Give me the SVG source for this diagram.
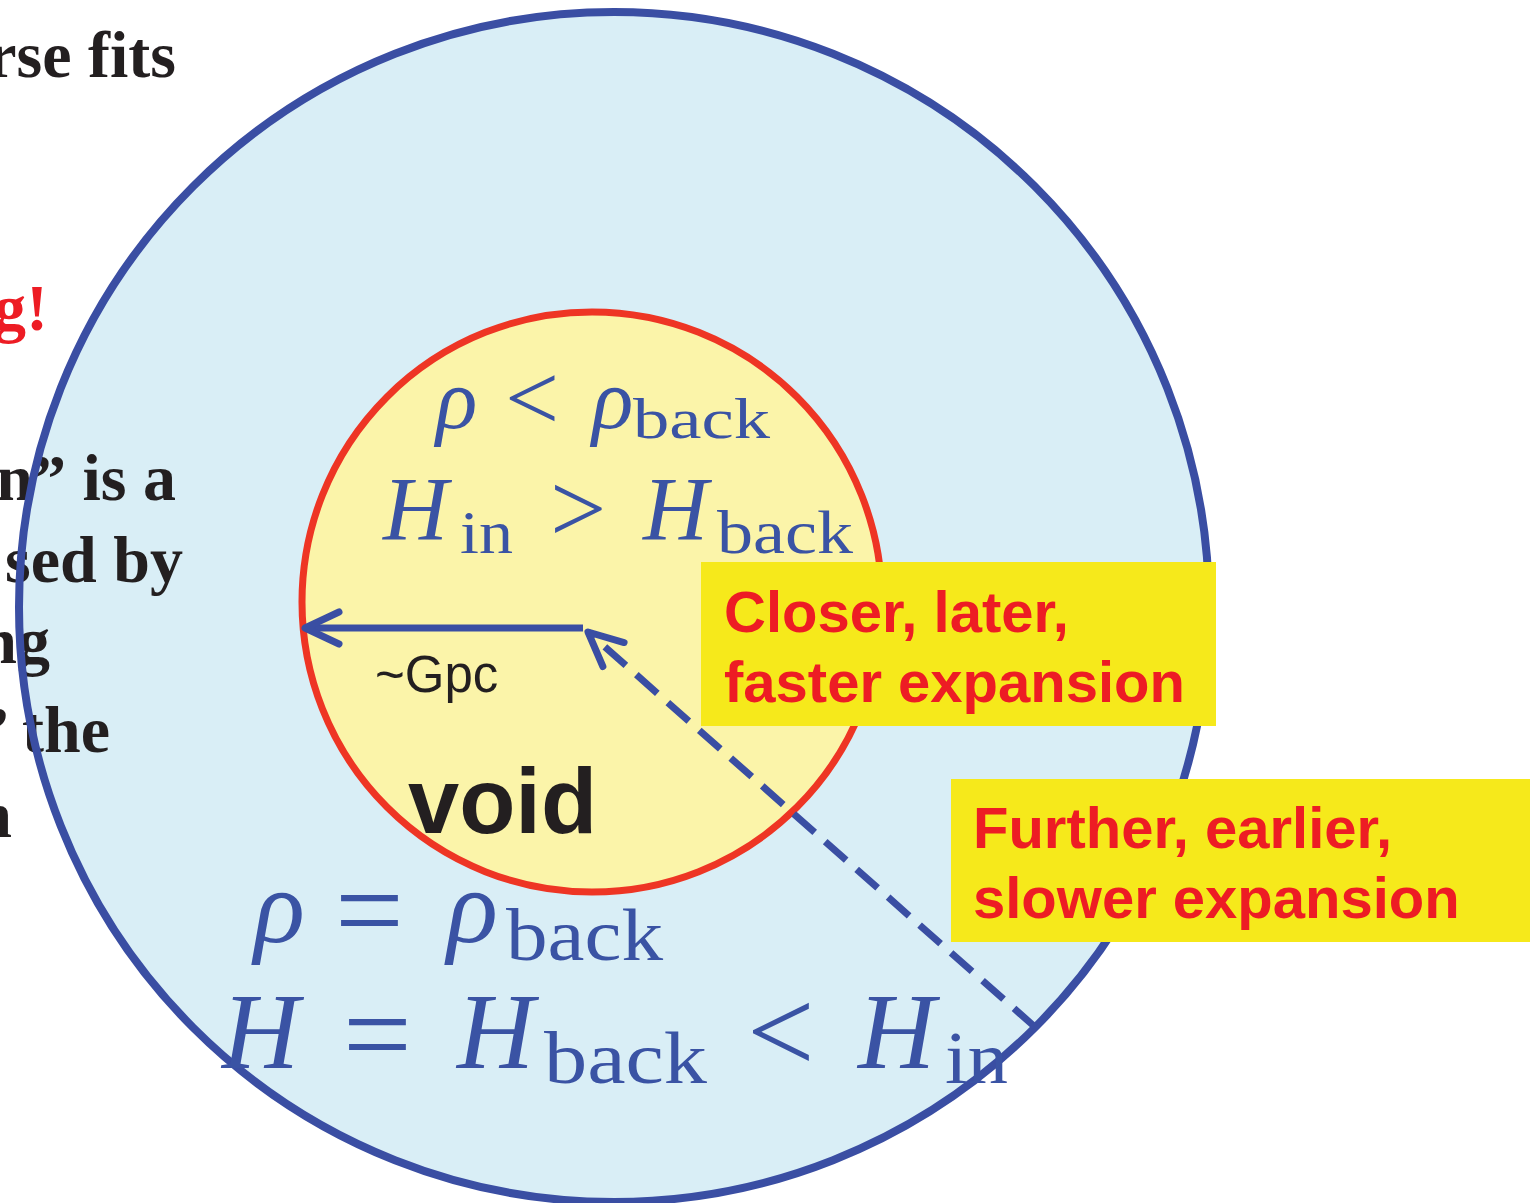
<svg xmlns="http://www.w3.org/2000/svg" width="1530" height="1203" viewBox="0 0 1530 1203">
<style>
.lt{font-family:"Liberation Serif","Times New Roman",serif;font-weight:bold;font-size:66px;fill:#231f20}
.red{fill:#ed1c24}
.m{font-family:"Liberation Serif","Times New Roman",serif;fill:#3a53a4}
.it{font-style:italic}
.box{fill:#f6e91b}
.bt{font-family:"Liberation Sans",Arial,sans-serif;font-weight:bold;font-size:58px;fill:#ed1c24}
.conn{fill:none;stroke:#3a4ea3;stroke-width:7}
</style>
<defs>
<marker id="ah" markerUnits="userSpaceOnUse" orient="auto" viewBox="-45 -25 55 50" refX="0" refY="0" markerWidth="55" markerHeight="50" overflow="visible">
<path d="M-34 -16 L0 0 L-34 16" fill="none" stroke="#3a4ea3" stroke-width="7" stroke-linecap="round" stroke-linejoin="round"/>
</marker>
</defs>
<rect width="1530" height="1203" fill="#ffffff"/>
<g id="outer-region">
<circle cx="614" cy="607" r="595" fill="#d9eef6"/>
</g>
<g id="left-text">
<text class="lt" x="176" y="77" text-anchor="end">rse fits</text>
<text class="lt red" x="48" y="330" text-anchor="end">g!</text>
<text class="lt" x="176" y="500" text-anchor="end">n” is a</text>
<text class="lt" x="183" y="582" text-anchor="end">sed by</text>
<text class="lt" x="50" y="663" text-anchor="end">ng</text>
<text class="lt" x="110" y="752" text-anchor="end">’ the</text>
<text class="lt" x="12" y="837" text-anchor="end">n</text>
</g>
<g id="outer-border">
<circle cx="614" cy="607" r="595" fill="none" stroke="#3a4ea3" stroke-width="8"/>
</g>
<g id="void">
<circle cx="592" cy="602" r="290" fill="#fbf4a9" stroke="#ee3524" stroke-width="7"/>
<text x="408" y="833" font-family="Liberation Sans, Arial, sans-serif" font-weight="bold" font-size="92" fill="#231f20">void</text>
</g>
<g id="inner-equations">
<text class="m it" x="436" y="428" font-size="86">ρ</text>
<text class="m" x="505" y="430" font-size="96">&lt;</text>
<text class="m it" x="592" y="428" font-size="86">ρ</text>
<text class="m" x="633" y="438" font-size="58" textLength="137" lengthAdjust="spacingAndGlyphs">back</text>
<text class="m it" x="383" y="540" font-size="90">H</text>
<text class="m" x="460" y="553" font-size="62" textLength="53" lengthAdjust="spacingAndGlyphs">in</text>
<text class="m" x="550" y="542" font-size="100">&gt;</text>
<text class="m it" x="643" y="540" font-size="90">H</text>
<text class="m" x="717" y="553" font-size="62" textLength="136" lengthAdjust="spacingAndGlyphs">back</text>
</g>
<g id="outer-equations">
<text class="m it" x="254" y="942" font-size="106">ρ</text>
<text class="m" x="335" y="951" font-size="122">=</text>
<text class="m it" x="447" y="942" font-size="106">ρ</text>
<text class="m" x="506" y="960" font-size="74" textLength="157" lengthAdjust="spacingAndGlyphs">back</text>
<text class="m it" x="222" y="1068" font-size="107">H</text>
<text class="m" x="343" y="1075" font-size="122">=</text>
<text class="m it" x="457" y="1068" font-size="107">H</text>
<text class="m" x="544" y="1083" font-size="74" textLength="163" lengthAdjust="spacingAndGlyphs">back</text>
<text class="m" x="747" y="1072" font-size="120">&lt;</text>
<text class="m it" x="858" y="1068" font-size="107">H</text>
<text class="m" x="945" y="1083" font-size="74" textLength="63" lengthAdjust="spacingAndGlyphs">in</text>
</g>
<g id="connectors">
<path class="conn" d="M583 628 L305 628" marker-end="url(#ah)"/>
<path class="conn" d="M1035 1027 L588 632" stroke-dasharray="28 14" marker-end="url(#ah)"/>
</g>
<g id="gpc-label">
<text x="375" y="692" font-family="Liberation Sans, Arial, sans-serif" font-size="51" fill="#231f20">~Gpc</text>
</g>
<g id="box-closer">
<rect class="box" x="701" y="562" width="515" height="164"/>
<text class="bt" x="724" y="632">Closer, later,</text>
<text class="bt" x="724" y="702">faster expansion</text>
</g>
<g id="box-further">
<rect class="box" x="951" y="779" width="579" height="163"/>
<text class="bt" x="973" y="848">Further, earlier,</text>
<text class="bt" x="973" y="918">slower expansion</text>
</g>
</svg>
